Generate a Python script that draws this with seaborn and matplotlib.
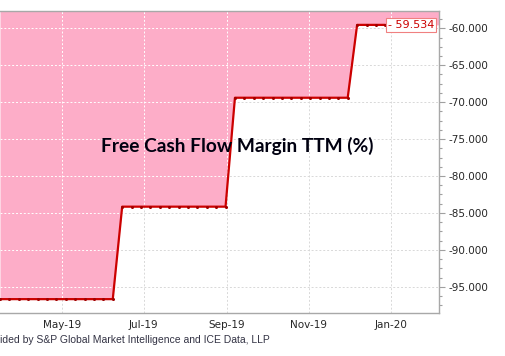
import pandas as pd
import numpy as np
import matplotlib
matplotlib.use("Agg")
import matplotlib.pyplot as plt
import matplotlib.ticker as mticker
import seaborn as sns


# weekly free cash flow margin TTM (%)
week_start = "2019-03-16"
week_end = "2019-12-28"
margin = [
    -96.67, -96.67, -96.67, -96.67, -96.67, -96.67, -96.67,
    -96.67, -96.67, -96.67, -96.67, -96.67, -96.67,
    -84.15, -84.15, -84.15, -84.15, -84.15, -84.15,
    -84.15, -84.15, -84.15, -84.15, -84.15, -84.15,
    -69.40, -69.40, -69.40, -69.40, -69.40, -69.40, -69.40,
    -69.40, -69.40, -69.40, -69.40, -69.40, -69.40,
    -59.534, -59.534, -59.534, -59.534,
]

tick_dates = ["2019-05-01", "2019-07-01", "2019-09-01", "2019-11-01", "2020-01-01"]
tick_labels = ["May-19", "Jul-19", "Sep-19", "Nov-19", "Jan-20"]

title = "Free Cash Flow Margin TTM (%)"
footer = "ided by S&P Global Market Intelligence and ICE Data, LLP"

data = pd.DataFrame({
    "date": pd.date_range(week_start, week_end, freq="7D"),
    "margin": margin,
})

sns.set_style("white")
plt.rcParams["font.family"] = ["DejaVu Sans"]
plt.rcParams["axes.unicode_minus"] = False

fig = plt.figure(figsize=(5.06, 3.56), dpi=100)
ax = fig.add_axes([0.0, 0.122, 0.8676, 0.847])

y_top = -57.66
y_bottom = -98.49
x_left = pd.Timestamp("2019-03-16")
x_right = pd.Timestamp("2020-02-06")

# pink area above the line, carried on to the right edge
fill_x = list(data["date"]) + [x_right]
fill_y = list(data["margin"]) + [data["margin"].iloc[-1]]
poly = ax.fill_between(fill_x, fill_y, y_top,
                       color="#FDADC8", linewidth=0, zorder=1)

sns.lineplot(data=data, x="date", y="margin", ax=ax, color="#CC0000",
             linewidth=1.6, marker="o", markersize=2.2,
             markerfacecolor="#A00000", markeredgewidth=0, zorder=3)

ax.set_xlim(x_left, x_right)
ax.set_ylim(y_bottom, y_top)

ax.set_xticks(pd.to_datetime(tick_dates))
ax.set_xticklabels(tick_labels)

ax.yaxis.tick_right()
ax.yaxis.set_major_locator(mticker.MultipleLocator(5))
ax.yaxis.set_minor_locator(mticker.MultipleLocator(1.25))
ax.yaxis.set_major_formatter(mticker.FuncFormatter(lambda v, p: f"{v:.3f}"))

ax.tick_params(axis="y", which="major", length=4, width=0.8, color="#a0a0a0",
               labelsize=7.5, pad=3, right=True, left=False)
ax.tick_params(axis="y", which="minor", length=2, width=0.8, color="#a0a0a0",
               right=True, left=False)
ax.tick_params(axis="x", length=0, labelsize=7.5, pad=5)

ax.set_xlabel("")
ax.set_ylabel("")

# grid: grey on white, white over the pink area
grid_style = dict(linestyle=(0, (2, 2)), linewidth=0.7)
ax.grid(True, which="major", color="#d8d8d8", zorder=0, **grid_style)
ax.set_axisbelow(True)
clip_path = poly.get_paths()[0]
for y in ax.get_yticks():
    if y_bottom < y < y_top:
        ln = ax.axhline(y, color="white", zorder=2, **grid_style)
        ln.set_clip_path(clip_path, ax.transData)
for x in ax.get_xticks():
    ln = ax.axvline(x, color="white", zorder=2, **grid_style)
    ln.set_clip_path(clip_path, ax.transData)

for side in ["top", "right", "bottom"]:
    ax.spines[side].set_color("#a8a8a8")
    ax.spines[side].set_linewidth(1)
ax.spines["left"].set_visible(False)

# last value label
last = data.iloc[-1]
ax.annotate("- " + f"{abs(last['margin']):.3f}", xy=(last["date"], last["margin"]),
            xytext=(2, 0), textcoords="offset points", ha="left", va="center",
            fontsize=8, color="#CC0000", zorder=5,
            bbox=dict(boxstyle="square,pad=0.15", facecolor="white",
                      edgecolor="#F08080", linewidth=0.8))

fig.text(0.468, 1 - 146 / 356, title, ha="center", va="center",
         fontsize=13.8, fontweight="bold", family=["Lato", "DejaVu Sans"],
         color="#000010")

fig.text(0.0, 1 - 340 / 356, footer, ha="left", va="center",
         fontsize=7.5, family=["Liberation Sans", "DejaVu Sans"], color="#333344")

fig.savefig("out.png", dpi=100)
